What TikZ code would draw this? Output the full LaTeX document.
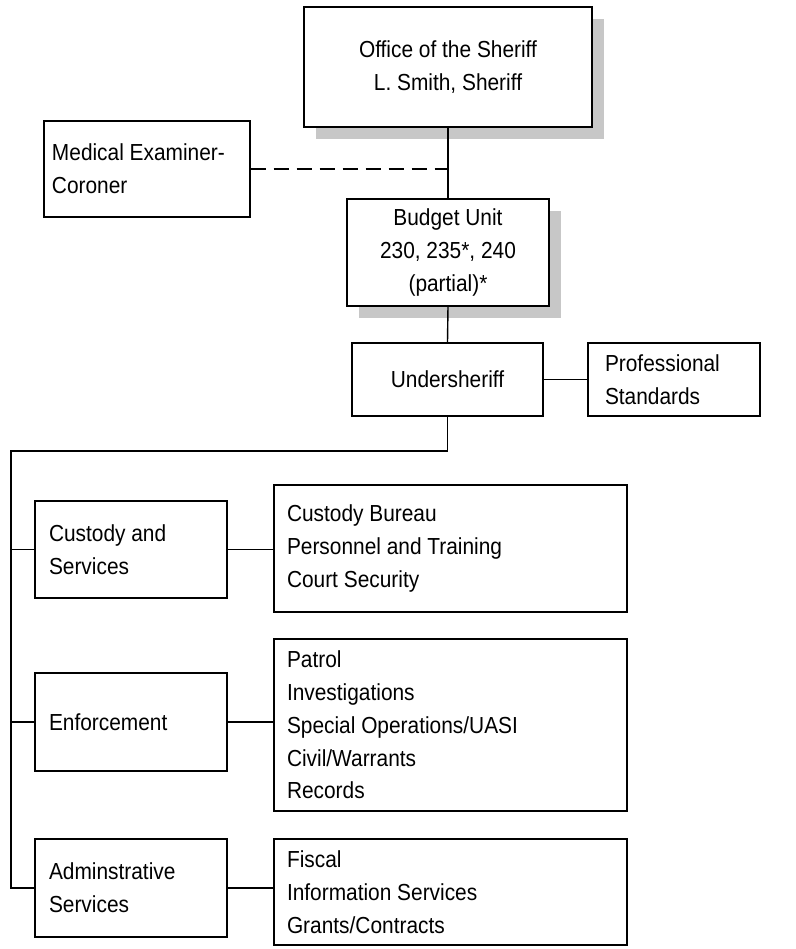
\documentclass[tikz,border=0pt]{standalone}
\usepackage{fontspec}
\setmainfont{Liberation Sans}[FakeStretch=0.9]
\usetikzlibrary{positioning,shadows}

\begin{document}
\begin{tikzpicture}[x=0.5pt,y=-0.5pt,
  font=\fontsize{11.6}{16.4}\selectfont,
  blk/.style={draw,fill=white,line width=0.7pt,inner sep=0pt,align=center},
  lst/.style={blk,align=flush left,inner xsep=#1},
  shadowed/.style={drop shadow={shadow xshift=6pt,shadow yshift=-6pt,fill=black!22,opacity=1}},
  link/.style={line width=0.7pt}]
\useasboundingbox (0,0) rectangle (796,949);
\node[blk,shadowed,minimum width=144pt,minimum height=60pt] (sheriff) at (448,67) {Office of the Sheriff\\L. Smith, Sheriff};
\node[lst=4pt,text width=95pt,minimum height=48pt] (coroner) at (147,169) {Medical Examiner-\\Coroner};
\node[blk,shadowed,minimum width=101pt,minimum height=53.5pt] (budget) at (448,252.5) {Budget Unit\\230, 235*, 240\\(partial)*};
\node[blk,minimum width=95.5pt,minimum height=36.5pt] (under) at (447.5,379.5) {Undersheriff};
\node[lst=8.5pt,text width=69pt,minimum height=36.5pt] (prof) at (674,379.5) {Professional\\Standards};
\node[lst=7pt,text width=82pt,minimum height=48.5pt] (custody) at (131,549.5) {Custody and\\Services};
\node[lst=6.5pt,text width=163.5pt,minimum height=63.5pt] (custodylist) at (450.5,548.5) {Custody Bureau\\Personnel and Training\\Court Security};
\node[lst=7pt,text width=82pt,minimum height=49pt] (enf) at (131,722) {Enforcement};
\node[lst=6.5pt,text width=163.5pt,minimum height=86pt] (enflist) at (450.5,725) {Patrol\\Investigations\\Special Operations/UASI\\Civil/Warrants\\Records};
\node[lst=7pt,text width=82pt,minimum height=49pt] (admin) at (131,888) {Adminstrative\\Services};
\node[lst=6.5pt,text width=163.5pt,minimum height=53pt] (adminlist) at (450.5,892) {Fiscal\\Information Services\\Grants/Contracts};
\coordinate (trunk) at (11,451);
\draw[link] (sheriff.south) -- (budget.north);
\draw[line width=1.4pt,dash pattern=on 7.5pt off 4pt] (coroner.east) -- (coroner.east -| sheriff.south);
\draw[link] (budget.south) -- (under.north);
\draw[link] (under.east) -- (prof.west);
\draw[link] (under.south) |- (trunk) |- (admin.west);
\draw[link] (trunk |- custody.west) -- (custody.west);
\draw[link] (trunk |- enf.west) -- (enf.west);
\draw[link] (custody.east) -- (custody.east -| custodylist.west);
\draw[link] (enf.east) -- (enf.east -| enflist.west);
\draw[link] (admin.east) -- (admin.east -| adminlist.west);
\end{tikzpicture}
\end{document}
